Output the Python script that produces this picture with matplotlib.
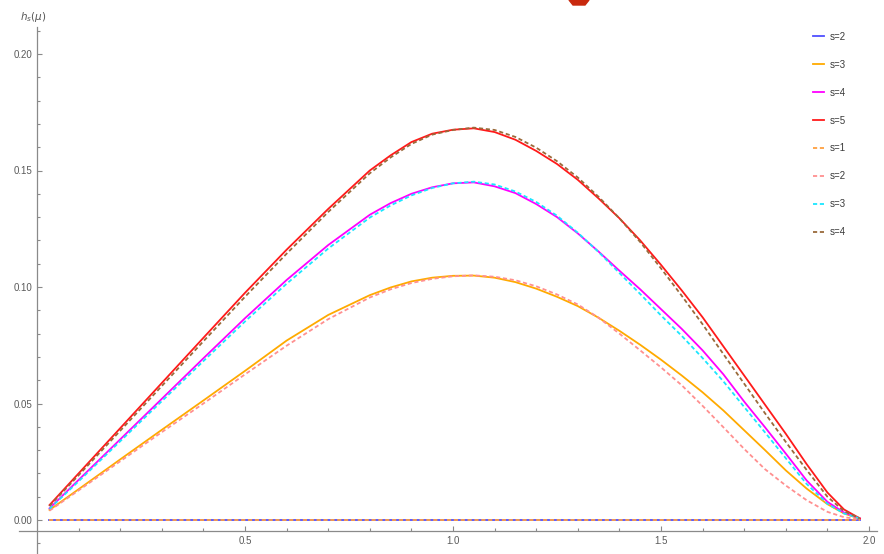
import numpy as np
import matplotlib
matplotlib.use("Agg")
import matplotlib.pyplot as plt
from matplotlib.ticker import FixedLocator
from matplotlib.patches import Polygon

# values
mu = [0.03, 0.1, 0.2, 0.3, 0.4, 0.5, 0.6, 0.7, 0.8, 0.85, 0.9, 0.95, 1.0, 1.05, 1.1, 1.15,
      1.2, 1.25, 1.3, 1.35, 1.4, 1.45, 1.5, 1.55, 1.6, 1.65, 1.7, 1.75, 1.8, 1.85, 1.9, 1.94, 1.978]

solid_s2 = [0.0] * len(mu)
solid_s3 = [0.0043, 0.0132, 0.0260, 0.0387, 0.0513, 0.0640, 0.0770, 0.0880, 0.0965, 0.0998, 0.1024,
            0.1040, 0.1048, 0.1049, 0.1040, 0.1021, 0.0993, 0.0958, 0.0918, 0.0868, 0.0812, 0.0752,
            0.0688, 0.0620, 0.0548, 0.0470, 0.0385, 0.0300, 0.0213, 0.0135, 0.0068, 0.0028, 0.0005]
solid_s4 = [0.0050, 0.0172, 0.0346, 0.0520, 0.0694, 0.0866, 0.1030, 0.1180, 0.1310, 0.1360, 0.1400,
            0.1428, 0.1445, 0.1449, 0.1432, 0.1403, 0.1356, 0.1300, 0.1230, 0.1152, 0.1070, 0.0990,
            0.0905, 0.0820, 0.0728, 0.0625, 0.0508, 0.0398, 0.0285, 0.0170, 0.0078, 0.0032, 0.0007]
solid_s5 = [0.0064, 0.0200, 0.0394, 0.0588, 0.0782, 0.0975, 0.1160, 0.1335, 0.1500, 0.1565, 0.1622,
            0.1658, 0.1675, 0.1681, 0.1665, 0.1632, 0.1584, 0.1528, 0.1460, 0.1380, 0.1295, 0.1200,
            0.1095, 0.0985, 0.0870, 0.0745, 0.0620, 0.0495, 0.0370, 0.0240, 0.0118, 0.0045, 0.0007]

dash_s1 = [0.0] * len(mu)
dash_s2 = [0.0040, 0.0127, 0.0252, 0.0377, 0.0500, 0.0625, 0.0748, 0.0862, 0.0955, 0.0990, 0.1017,
           0.1035, 0.1046, 0.1050, 0.1044, 0.1029, 0.1003, 0.0968, 0.0925, 0.0868, 0.0800, 0.0728,
           0.0655, 0.0578, 0.0490, 0.0398, 0.0305, 0.0218, 0.0148, 0.0085, 0.0035, 0.0012, 0.0003]
dash_s3 = [0.0048, 0.0166, 0.0338, 0.0510, 0.0682, 0.0852, 0.1014, 0.1165, 0.1298, 0.1350, 0.1393,
           0.1425, 0.1445, 0.1452, 0.1440, 0.1410, 0.1365, 0.1306, 0.1233, 0.1150, 0.1060, 0.0970,
           0.0878, 0.0790, 0.0695, 0.0595, 0.0485, 0.0376, 0.0265, 0.0155, 0.0070, 0.0028, 0.0007]
dash_s4 = [0.0060, 0.0192, 0.0383, 0.0575, 0.0767, 0.0958, 0.1143, 0.1322, 0.1488, 0.1556, 0.1614,
           0.1654, 0.1674, 0.1684, 0.1674, 0.1644, 0.1598, 0.1540, 0.1470, 0.1387, 0.1295, 0.1193,
           0.1080, 0.0962, 0.0840, 0.0712, 0.0585, 0.0458, 0.0335, 0.0215, 0.0100, 0.0038, 0.0007]

x_major = [0.5, 1.0, 1.5, 2.0]
y_major = [0.0, 0.05, 0.10, 0.15, 0.20]

plt.rcParams['font.family'] = ['Liberation Sans', 'DejaVu Sans']

fig = plt.figure(figsize=(8.84, 5.54), dpi=100)
ax = fig.add_axes([0, 0, 1, 1])
ax.set_xlim(-37 / 416, (884 - 37) / 416)
ax.set_ylim(-34 / 2330, 520 / 2330)

lw = 1.3
dash = (2.3, 1.5)
ax.plot(mu, solid_s2, color='#4f4fff', lw=lw, label='s=2')
ax.plot(mu, solid_s3, color='#ffaa00', lw=lw, label='s=3')
ax.plot(mu, solid_s4, color='#ff00ff', lw=lw, label='s=4')
ax.plot(mu, solid_s5, color='#ff1a1a', lw=lw, label='s=5')
ax.plot(mu, dash_s1, color='#ffa040', lw=lw, ls=(0, dash), label='s=1')
ax.plot(mu, dash_s2, color='#ff9090', lw=lw, ls=(0, dash), label='s=2')
ax.plot(mu, dash_s3, color='#1ae6ff', lw=lw, ls=(0, dash), label='s=3')
ax.plot(mu, dash_s4, color='#9a6a3a', lw=lw, ls=(0, dash), label='s=4')

# mathematica style axes
axis_col = '#8a8a8a'
for side in ['top', 'right']:
    ax.spines[side].set_visible(False)
ax.spines['left'].set_position(('data', 0.0))
ax.spines['bottom'].set_position(('data', -0.0047))
ax.spines['left'].set_bounds(-34 / 2330, 0.2115)
ax.spines['bottom'].set_bounds(-0.043, 2.02)
for side in ['left', 'bottom']:
    ax.spines[side].set_color(axis_col)
    ax.spines[side].set_linewidth(0.9)

ax.xaxis.set_major_locator(FixedLocator(x_major))
ax.xaxis.set_minor_locator(FixedLocator([v / 10 for v in range(1, 21) if v % 5 != 0]))
ax.yaxis.set_major_locator(FixedLocator(y_major))
ax.yaxis.set_minor_locator(FixedLocator([v / 100 for v in range(-1, 22) if v % 5 != 0]))
ax.set_xticklabels(['%.1f' % v for v in x_major])
ax.set_yticklabels(['%.2f' % v for v in y_major])
ax.tick_params(which='both', direction='in', color=axis_col, width=0.8,
               labelsize=7, labelcolor='#5a5a5a')
ax.tick_params(which='major', length=3.5, pad=3.5)
ax.tick_params(which='minor', length=2.0)

fig.text(33 / 884, 1 - 17 / 554, r'$h_s(\mu)$', fontsize=7.5, color='#555555',
         ha='center', va='center')

leg = ax.legend(loc='upper left', bbox_to_anchor=(809 / 884, 1 - 28 / 554),
                frameon=False, fontsize=7, handlelength=1.1, handletextpad=0.6,
                labelspacing=1.84, borderaxespad=0)
for t in leg.get_texts():
    t.set_color('#3a3a3a')

# clipped red marker at the top edge of the screenshot
fig.patches.append(Polygon([[569 / 884, 1.0], [589 / 884, 1.0], [585 / 884, 1 - 5 / 554],
                            [573 / 884, 1 - 5 / 554]], closed=True,
                           transform=fig.transFigure, color='#c8290e'))

fig.savefig('out.png', dpi=100)
